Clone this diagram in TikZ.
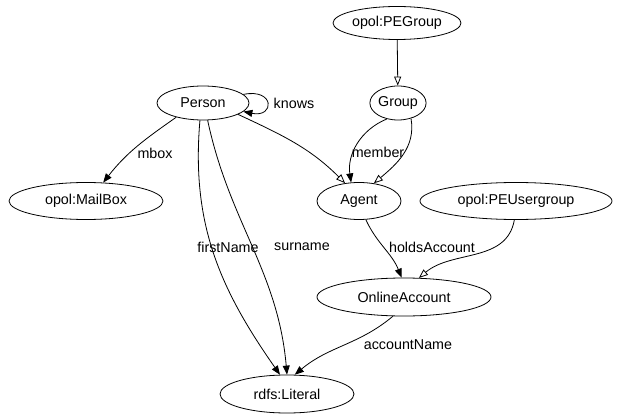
\documentclass[tikz,border=0pt]{standalone}
\usepackage{fontspec}
\setmainfont{Liberation Sans}
\usetikzlibrary{arrows.meta,shapes.geometric}
\begin{document}
\begin{tikzpicture}[x=1pt,y=-1pt,
  cls/.style={draw, ellipse, line width=0.8pt, inner sep=0pt, font=\fontsize{14.3}{16}\selectfont},
  lbl/.style={font=\fontsize{14.3}{16}\selectfont, inner sep=0pt},
  rel/.style={line width=0.8pt, -{Triangle[length=9pt,width=7pt]}},
  sub/.style={line width=0.8pt, -{Triangle[open,length=9pt,width=7pt]}}]
\useasboundingbox (0,0) rectangle (618,414);
% classes
\node[cls, minimum width=128pt, minimum height=33pt] (pegroup) at (397,23) {opol:PEGroup};
\node[cls, minimum width=92pt, minimum height=34pt] (person) at (203,103) {Person};
\node[cls, minimum width=56pt, minimum height=34pt] (group) at (398,103) {Group};
\node[cls, minimum width=154pt, minimum height=37pt] (mailbox) at (86,201) {opol:MailBox};
\node[cls, minimum width=84pt, minimum height=37pt] (agent) at (359,201) {Agent};
\node[cls, minimum width=192pt, minimum height=37pt] (peusergroup) at (516,201) {opol:PEUsergroup};
\node[cls, minimum width=174pt, minimum height=38pt] (account) at (404,297) {OnlineAccount};
\node[cls, minimum width=134pt, minimum height=38pt] (literal) at (287,394) {rdfs:Literal};
% subclass links
\draw[sub] (pegroup) -- (group);
\draw[sub] (person.-18) to[out=-25,in=135] (agent.128);
\draw[sub] (group.-50) to[out=-80,in=40] (agent.50);
\draw[sub] (peusergroup.-95) to[out=-100,in=40] (account.52);
% properties
\draw[rel] (person.12) .. controls (275,88) and (275,118) .. (person.-12);
\node[lbl] (knows) at (294,103) {knows};
\draw[rel] (person.208) to[out=215,in=52] (mailbox.47);
\node[lbl] (mbox) at (155,153) {mbox};
\draw[rel] (group.235) .. controls (360,130) and (347,155) .. (agent.113);
\node[lbl] (member) at (378,152) {member};
\draw[rel] (person.-100) to[out=-95,in=125] (literal.110);
\node[lbl] (firstname) at (228,247) {firstName};
\draw[rel] (person.-75) to[out=-78,in=95] (literal.90);
\node[lbl] (surname) at (302,247) {surname};
\draw[rel] (agent.-70) to[out=-65,in=112] (account.97);
\node[lbl] (holds) at (432,247) {holdsAccount};
\draw[rel] (account.-120) to[out=-140,in=40] (literal.68);
\node[lbl] (accname) at (408,345) {accountName};
\end{tikzpicture}
\end{document}
